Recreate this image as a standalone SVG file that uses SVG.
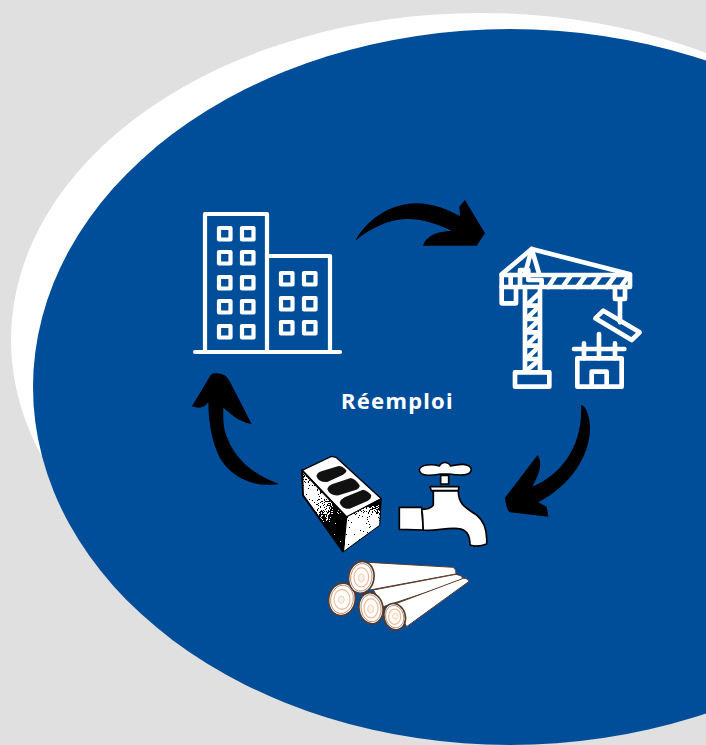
<svg xmlns="http://www.w3.org/2000/svg" width="706" height="745" viewBox="0 0 706 745">
<style>
.w{fill:none;stroke:#fff;stroke-linejoin:round;stroke-linecap:round}
.b4{stroke-width:4.2}
.z{stroke-width:14}
.k{fill:#fff;stroke:#000;stroke-width:5;stroke-linejoin:round}
.log{fill:#fff;stroke:#5a3a28;stroke-width:5;stroke-linejoin:round}
.edge{fill:none;stroke:#8a6a50;stroke-width:2}
.ring{fill:none;stroke:#f5b78c;stroke-width:3.5}
.core{fill:#fdf1e8;stroke:#f3c9ad;stroke-width:2.5}
.hole{fill:#111}
.lbl{font-family:"Noto Sans","Liberation Sans",sans-serif;font-weight:700;font-size:22px;letter-spacing:1.25px;fill:#fff}
.arrow{fill:#000}
</style>
<defs>
<filter id="dither" x="0" y="0" width="100%" height="100%" color-interpolation-filters="sRGB">
<feTurbulence type="fractalNoise" baseFrequency="0.7" numOctaves="2" seed="4" result="n"/>
<feColorMatrix in="n" type="matrix" values="1.8 0 0 0 -0.4 1.8 0 0 0 -0.4 1.8 0 0 0 -0.4 0 0 0 0 1" result="g"/>
<feComposite in="SourceGraphic" in2="g" operator="arithmetic" k1="0" k2="1" k3="1" k4="-0.5" result="s"/>
<feComponentTransfer in="s" result="t">
<feFuncR type="discrete" tableValues="0 1"/><feFuncG type="discrete" tableValues="0 1"/><feFuncB type="discrete" tableValues="0 1"/>
</feComponentTransfer>
<feColorMatrix in="t" type="matrix" values="1 0 0 0 0 0 1 0 0 0 0 0 1 0 0 0 0 0 0 1" result="o"/>
<feComposite in="o" in2="SourceGraphic" operator="in"/>
</filter>
<radialGradient id="gl" gradientUnits="userSpaceOnUse" cx="35" cy="135" r="115">
<stop offset="0" stop-color="#f0f0f0"/><stop offset="0.35" stop-color="#c0c0c0"/><stop offset="0.8" stop-color="#333"/><stop offset="1" stop-color="#000"/>
</radialGradient>
<radialGradient id="gr" gradientUnits="userSpaceOnUse" cx="175" cy="280" r="145">
<stop offset="0" stop-color="#fff"/><stop offset="0.6" stop-color="#e8e8e8"/><stop offset="0.85" stop-color="#777"/><stop offset="1" stop-color="#000"/>
</radialGradient>
</defs>
<rect id="background" width="706" height="745" fill="#e0e0e0"/>
<ellipse id="white-ellipse" cx="481" cy="340" rx="470" ry="327" fill="#fff"/>
<ellipse id="blue-ellipse" cx="510" cy="387" rx="477" ry="358" fill="#004e9a"/>

<g id="building" class="w b4">
<rect x="205" y="214" width="62" height="138"/>
<path d="M267 256H330V352"/>
<path d="M195 352H340"/>
<g id="windows">
<rect x="219" y="228" width="11.5" height="11.5"/><rect x="242" y="228" width="11.5" height="11.5"/>
<rect x="219" y="252" width="11.5" height="11.5"/><rect x="242" y="252" width="11.5" height="11.5"/>
<rect x="219" y="277" width="11.5" height="11.5"/><rect x="242" y="277" width="11.5" height="11.5"/>
<rect x="219" y="301" width="11.5" height="11.5"/><rect x="242" y="301" width="11.5" height="11.5"/>
<rect x="219" y="326" width="11.5" height="11.5"/><rect x="242" y="326" width="11.5" height="11.5"/>
<rect x="281" y="273" width="11.5" height="11.5"/><rect x="304" y="273" width="11.5" height="11.5"/>
<rect x="281" y="298" width="11.5" height="11.5"/><rect x="304" y="298" width="11.5" height="11.5"/>
<rect x="281" y="322" width="11.5" height="11.5"/><rect x="304" y="322" width="11.5" height="11.5"/>
</g>
</g>

<g id="crane" class="w z" transform="translate(490 235) scale(.3333)">
<path d="M35 118L125 42L420 118"/>
<path d="M125 42L105 118M125 42L148 118"/>
<rect x="35" y="120" width="385" height="36"/>
<path d="M62 120V156M90 105V156M90 105H115V135H155V156"/>
<path d="M35 156V205H78V156"/>
<path d="M105 156V410M150 156V410"/>
<path d="M108 212L147 175M108 252L147 215M108 292L147 255M108 332L147 295M108 372L147 335M108 408L147 375M108 212H147M108 252H147M108 292H147M108 332H147M108 372H147"/>
<path d="M175 156L197 122M218 156L242 122M262 156L287 122M306 156L331 122M350 156L375 122M392 156L416 122"/>
<rect x="75" y="412" width="103" height="43"/>
<path d="M375 156V192H405V156M390 192V262"/>
<path d="M340 227L316 250L425 315L449 292Z"/>
<rect x="262" y="370" width="133" height="85"/>
<path d="M305 455V410H350V455"/>
<path d="M252 342H403M282 325V370M327 297V370M375 325V370"/>
</g>

<g id="block" transform="translate(298 452) scale(.3333)">
<path d="M12 55L100 13L114 16L250 140L145 195Z" fill="#fff" stroke="#000" stroke-width="4" stroke-linejoin="round"/>
<path d="M12 55L145 195L135 298L15 130Z" fill="url(#gl)" filter="url(#dither)"/>
<path d="M145 195L250 140L245 220L138 298Z" fill="url(#gr)" filter="url(#dither)"/>
<path d="M12 55L145 195L135 298L15 130Z" fill="none" stroke="#000" stroke-width="6" stroke-linejoin="round"/>
<path d="M145 195L250 140L245 220L138 298" fill="none" stroke="#000" stroke-width="3" stroke-linejoin="round"/>
<path class="hole" d="M55 72Q58 62 70 58L122 42Q134 42 145 55Q146 62 135 68L88 90Q62 92 55 72Z"/>
<path class="hole" d="M88 112Q90 102 102 97L158 78Q172 80 185 100Q186 108 175 113L122 130Q95 132 88 112Z"/>
<path class="hole" d="M125 152Q128 142 140 136L195 113Q210 116 220 130Q220 140 210 146L155 170Q132 172 125 152Z"/>
</g>

<g id="faucet" class="k" transform="translate(290 450) scale(.3333)">
<path d="M328 172H395L400 240L328 238Z"/>
<path d="M452 76H476V102H452Z"/>
<path d="M388 60C390 42 430 42 448 48C456 34 474 34 482 48C505 42 540 38 544 58C544 80 505 76 478 72H452C430 76 390 82 388 60Z"/>
<path d="M430 122V165C425 175 410 178 395 178C400 200 398 225 400 240C430 245 470 232 505 236C530 238 540 255 540 285C555 290 575 288 590 282C592 250 585 215 560 195C530 175 505 165 505 122Z"/>
<path d="M420 110H507L505 122H424Z"/>
</g>

<g id="logs" transform="translate(290 450) scale(.3333)">
<path class="log" style="stroke-width:3" d="M200 335L490 352Q500 360 498 372L240 420Z"/>
<path class="log" style="stroke-width:3" d="M250 420L498 373L515 378Q520 385 515 392L280 470Z"/>
<path class="log" style="stroke-width:3" d="M315 462L520 385Q535 385 536 395L350 530Z"/>
<g class="log">
<ellipse cx="156" cy="448" rx="40" ry="49" transform="rotate(10 156 448)"/>
<ellipse cx="243" cy="475" rx="36" ry="47" transform="rotate(-10 243 475)"/>
<ellipse cx="314" cy="500" rx="32" ry="40" transform="rotate(-15 314 500)"/>
<ellipse cx="214" cy="382" rx="38" ry="48" transform="rotate(10 214 382)"/>
</g>
<g class="edge">
<ellipse cx="156" cy="448" rx="34" ry="43" transform="rotate(10 156 448)"/>
<ellipse cx="243" cy="475" rx="30" ry="41" transform="rotate(-10 243 475)"/>
<ellipse cx="314" cy="500" rx="27" ry="34" transform="rotate(-15 314 500)"/>
<ellipse cx="214" cy="382" rx="32" ry="42" transform="rotate(10 214 382)"/>
</g>
<g class="ring">
<ellipse cx="156" cy="448" rx="24" ry="30"/>
<ellipse cx="243" cy="475" rx="21" ry="29"/>
<ellipse cx="314" cy="500" rx="18" ry="23"/>
<ellipse cx="214" cy="382" rx="22" ry="29"/>
</g>
<g class="core">
<ellipse cx="154" cy="449" rx="9" ry="11"/>
<ellipse cx="242" cy="477" rx="9" ry="12"/>
<ellipse cx="316" cy="499" rx="8" ry="9"/>
<ellipse cx="214" cy="384" rx="9" ry="12"/>
</g>
</g>

<g id="connectors">
<path class="arrow" transform="translate(340 190) scale(.3333)" d="M46 152C80 90 150 40 230 40C280 40 325 60 360 78L358 50L375 30L435 130L410 167L248 167C262 135 290 125 335 122C280 95 220 80 170 90C120 100 80 125 46 152Z"/>
<path class="arrow" transform="translate(495 395) scale(.3333)" d="M258 30C270 30 285 60 285 100C285 180 230 270 130 322L155 335L160 365L45 352C35 345 32 325 30 308L128 180C140 200 140 225 112 275C200 240 265 150 258 30Z"/>
<path class="arrow" transform="translate(180 365) scale(.3333)" d="M297 357C220 330 160 280 135 200C128 170 130 145 130 128L150 145C165 160 195 175 215 177L150 50C140 30 125 22 100 25L92 30L36 124C55 130 70 132 85 112C85 170 95 230 120 280C150 330 210 370 297 357Z"/>
</g>
<g id="label"><text class="lbl" x="341" y="409">Réemploi</text></g>
</svg>
